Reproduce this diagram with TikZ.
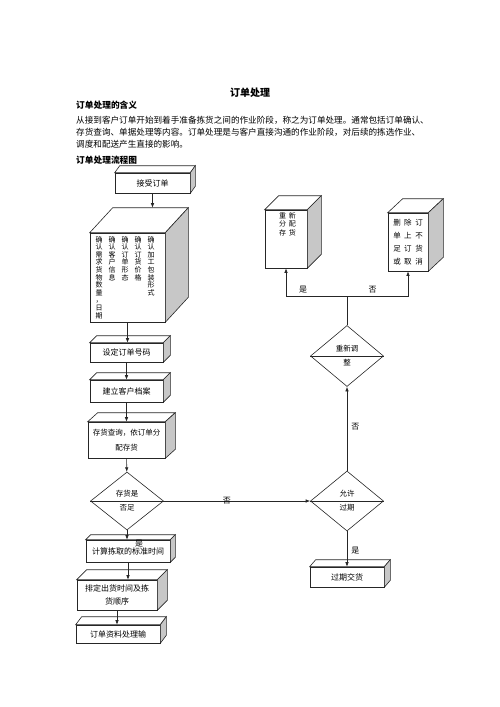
\documentclass[tikz,border=0pt]{standalone}
\usepackage{fontspec}
\setmainfont{Noto Sans CJK SC}
\usetikzlibrary{arrows.meta,shapes.geometric,calc}

% top and side faces of a box node: name, depth right, depth up
\newcommand\cubefaces[3]{%
  \draw[face] (#1.north west) -- ++(#2,-#3) -- ($(#1.north east)+(#2,-#3)$)
    -- (#1.north east) -- cycle;
  \draw[side] (#1.north east) -- ++(#2,-#3) -- ($(#1.south east)+(#2,-#3)$)
    -- (#1.south east) -- cycle;
  \coordinate (#1-back) at ($(#1.north)+(#2,-#3)$);}

\begin{document}
\begin{tikzpicture}[x=1pt,y=-1pt,
  ink/.style={draw=black!85,line width=.6pt},
  box/.style={ink,fill=white,inner sep=1pt,align=center,
    font=\fontsize{8}{13}\selectfont},
  face/.style={ink,fill=white},
  side/.style={ink,fill=black!22},
  decision/.style={ink,diamond,inner sep=0pt,align=center,
    font=\fontsize{7.5}{14}\selectfont},
  wire/.style={ink,-{Latex[length=4.5pt,width=3.5pt]}},
  label/.style={font=\fontsize{8}{10}\selectfont,inner sep=1pt},
  vcol/.style={font=\fontsize{7}{7.6}\selectfont,align=center,inner sep=0pt,anchor=north},
  heading/.style={font=\fontsize{8.7}{10}\selectfont\bfseries,anchor=west,inner sep=0pt}]
\useasboundingbox (0,0) rectangle (500,707);

% Title and introduction text.
\node[font=\fontsize{10}{12}\selectfont\bfseries] (title) at (250,93) {订单处理};
\node[heading] (meaning) at (76,105) {订单处理的含义};
\node[anchor=west,align=left,inner sep=0pt,font=\fontsize{8.6}{12}\selectfont] (intro) at (76,132)
  {从接到客户订单开始到着手准备拣货之间的作业阶段，称之为订单处理。通常包括订单确认、\\
   存货查询、单据处理等内容。订单处理是与客户直接沟通的作业阶段，对后续的拣选作业、\\
   调度和配送产生直接的影响。};
\node[heading] (flowtitle) at (76,160) {订单处理流程图};

% Left column: main flow.
\node[box,minimum width=75,minimum height=20] (recv) at (152.5,183) {接受订单};
\cubefaces{recv}{5}{7}
\node[box,minimum width=75,minimum height=89] (confirm) at (127.5,277.5) {};
\cubefaces{confirm}{23}{25}
\foreach \x/\t [count=\i] in
  {99/{确\\认\\需\\求\\货\\物\\数\\量\\，\\日\\期},
   112/{确\\认\\客\\户\\信\\息},
   125/{确\\认\\订\\单\\形\\态},
   138/{确\\认\\订\\货\\价\\格},
   151/{确\\认\\加\\工\\包\\装\\形\\式}}
  \node[vcol] (col\i) at (\x,236) {\t};
\node[box,minimum width=73,minimum height=19] (setno) at (126.5,352.5) {设定订单号码};
\cubefaces{setno}{7}{7}
\node[box,minimum width=73,minimum height=22] (archive) at (126.5,391) {建立客户档案};
\cubefaces{archive}{7}{7}
\node[box,minimum width=77,minimum height=36,font=\fontsize{7.5}{15}\selectfont]
  (stock) at (126.5,440) {存货查询，依订单分\\配存货};
\cubefaces{stock}{10}{9}
\node[decision,minimum width=73,minimum height=58] (enough) at (127,501) {存货是\\否足};
\draw[ink] (enough.west) -- (enough.east);
\node[box,minimum width=84,minimum height=22] (pick) at (128,551) {计算拣取的标准时间};
\cubefaces{pick}{5}{5}
\node[box,minimum width=80,minimum height=30] (sched) at (117,595)
  {排定出货时间及拣\\货顺序};
\cubefaces{sched}{10}{10}
\node[box,minimum width=84,minimum height=18] (output) at (118,634) {订单资料处理输};
\cubefaces{output}{6}{8}

% Right column: shortage handling.
\node[decision,minimum width=73,minimum height=60] (allow) at (347,501) {允许\\过期};
\draw[ink] (allow.west) -- (allow.east);
\node[box,minimum width=74,minimum height=20] (overdue) at (347,577) {过期交货};
\cubefaces{overdue}{6}{7}
\node[decision,minimum width=73,minimum height=61] (adjust) at (347,356) {重新调\\整};
\draw[ink] (adjust.west) -- (adjust.east);
\node[box,minimum width=42,minimum height=58] (realloc) at (286,239) {};
\cubefaces{realloc}{14}{14}
\node[anchor=north,align=center,inner sep=0pt,font=\fontsize{7}{8.5}\selectfont]
  (realloc-txt) at (287.5,212) {重\hspace{3pt}新\\分\hspace{3pt}配\\存\hspace{3pt}货};
\node[box,minimum width=40,minimum height=58,font=\fontsize{7.5}{13}\selectfont]
  (cancel) at (408,242)
  {删\hspace{3.5pt}除\hspace{3.5pt}订\\单\hspace{3.5pt}上\hspace{3.5pt}不\\
   足\hspace{3.5pt}订\hspace{3.5pt}货\\或\hspace{3.5pt}取\hspace{3.5pt}消};
\cubefaces{cancel}{15}{14}
\coordinate (split) at (347,296);

% Connectors.
\draw[wire] (recv.south) -- (recv.south |- confirm-back);
\draw[wire] (confirm.south) -- (confirm.south |- setno.north);
\draw[wire] (setno) -- (archive);
\draw[wire] (archive) -- (stock);
\draw[wire] (stock) -- (enough);
\draw[wire] (enough.east) -- node[label,pos=.43] (no1) {否} (allow.west);
\draw[wire] (enough) -- (enough.south |- pick.north);
\node[label] (yes1) at (139,544) {是};
\draw[wire] (pick.south) -- (pick.south |- sched.north);
\draw[wire] (sched.south) -- (sched.south |- output.north);
\draw[wire] (allow) -- node[label,pos=.55,right=3pt] (yes2) {是} (overdue);
\draw[wire] (allow) -- node[label,pos=.52,right=3pt] (no2) {否} (adjust);
\draw[ink] (adjust.north) -- (split);
\draw[wire] (split) -| node[label,pos=.36,above=2pt] (yes3) {是} (realloc.south);
\draw[wire] (split) -| node[label,pos=.21,above=2pt] (no3) {否} (cancel.south);
\end{tikzpicture}
\end{document}
